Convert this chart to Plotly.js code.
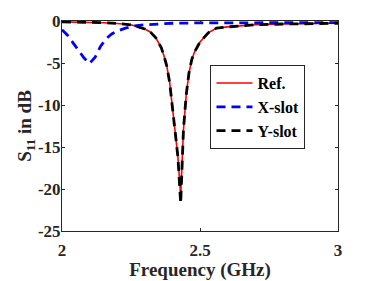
<!DOCTYPE html>
<html>
<head>
<meta charset="utf-8">
<script src="https://cdn.plot.ly/plotly-3.0.1.min.js"></script>
<style>html,body{margin:0;padding:0;background:#fff;}#chart{width:374px;height:281px;}</style>
</head>
<body>
<div id="chart"></div>
<script>
// Frequency (GHz) samples
var freqRef = [2.00, 2.05, 2.10, 2.15, 2.20, 2.25, 2.30, 2.32, 2.34, 2.36, 2.37, 2.38, 2.39, 2.40, 2.41, 2.42, 2.43, 2.44, 2.45, 2.46, 2.47, 2.48, 2.50, 2.53, 2.56, 2.60, 2.65, 2.70, 2.80, 2.90, 3.00];
var s11Ref  = [-0.10, -0.12, -0.15, -0.20, -0.30, -0.45, -0.95, -1.30, -2.00, -3.20, -4.20, -5.40, -7.30, -10.0, -13.2, -16.2, -20.8, -13.0, -8.80, -6.20, -4.60, -3.70, -2.50, -1.40, -0.85, -0.70, -0.55, -0.45, -0.36, -0.30, -0.27];
var s11Y    = [-0.10, -0.12, -0.15, -0.20, -0.30, -0.45, -0.95, -1.30, -2.00, -3.20, -4.20, -5.40, -7.30, -10.0, -13.2, -16.2, -21.7, -13.0, -8.80, -6.20, -4.60, -3.70, -2.50, -1.40, -0.85, -0.70, -0.55, -0.45, -0.36, -0.30, -0.27];
var freqX   = [2.00, 2.02, 2.04, 2.06, 2.08, 2.10, 2.12, 2.14, 2.16, 2.18, 2.20, 2.23, 2.26, 2.30, 2.35, 2.40, 2.50, 2.60, 2.80, 3.00];
var s11X    = [-1.05, -1.70, -2.60, -3.50, -4.40, -5.05, -4.30, -3.00, -2.10, -1.55, -1.20, -0.85, -0.60, -0.45, -0.33, -0.27, -0.22, -0.20, -0.20, -0.20];
var seriesNames = ['Ref.', 'X-slot', 'Y-slot'];
var xTicks = [2, 2.5, 3];
var xTickText = ['2', '2.5', '3'];
var yTicks = [0, -5, -10, -15, -20, -25];
var yTickText = ['0', '-5', '-10', '-15', '-20', '-25'];

var FONT = '"Liberation Serif", "Times New Roman", serif';
var AX = '#262626';

var traces = [
  {x: freqRef, y: s11Ref, name: seriesNames[0], mode: 'lines',
   line: {color: '#ff0000', width: 1.6}},
  {x: freqX, y: s11X, name: seriesNames[1], mode: 'lines',
   line: {color: '#0000ff', width: 2.8, dash: '9px,6px'}},
  {x: freqRef, y: s11Y, name: seriesNames[2], mode: 'lines',
   line: {color: '#000000', width: 2.8, dash: '9px,6px'}}
];

var layout = {
  width: 374, height: 281,
  margin: {l: 62, r: 36, t: 21, b: 50, pad: 0},
  paper_bgcolor: '#ffffff', plot_bgcolor: '#ffffff',
  font: {family: FONT, color: '#262626'},
  showlegend: true,
  legend: {
    x: 0.538, y: 0.79, xanchor: 'left', yanchor: 'top',
    bgcolor: '#ffffff', bordercolor: AX, borderwidth: 1,
    font: {family: FONT, size: 16, color: '#000000', weight: 'bold'},
    itemwidth: 36, tracegroupgap: 0
  },
  xaxis: {
    range: [2, 3], tickvals: xTicks, ticktext: xTickText,
    ticks: 'inside', ticklen: 3, tickcolor: AX, tickwidth: 1,
    showline: true, linecolor: AX, linewidth: 1, mirror: 'ticks',
    showgrid: false, zeroline: false, ticklabelstandoff: 4,
    tickfont: {family: FONT, size: 17, color: '#262626', weight: 'bold'},
    title: {text: 'Frequency (GHz)', font: {family: FONT, size: 19, color: '#262626', weight: 'bold'}, standoff: 4}
  },
  yaxis: {
    range: [-25, 0], tickvals: yTicks, ticktext: yTickText,
    ticks: 'inside', ticklen: 3, tickcolor: AX, tickwidth: 1,
    showline: true, linecolor: AX, linewidth: 1, mirror: 'ticks',
    showgrid: false, zeroline: false, ticklabelstandoff: -3,
    tickfont: {family: FONT, size: 17, color: '#262626', weight: 'bold'},
    title: {text: 'S<sub>11</sub> in dB', font: {family: FONT, size: 19, color: '#262626', weight: 'bold'}, standoff: 0}
  }
};

Plotly.newPlot('chart', traces, layout, {staticPlot: true, displayModeBar: false});
</script>
</body>
</html>
